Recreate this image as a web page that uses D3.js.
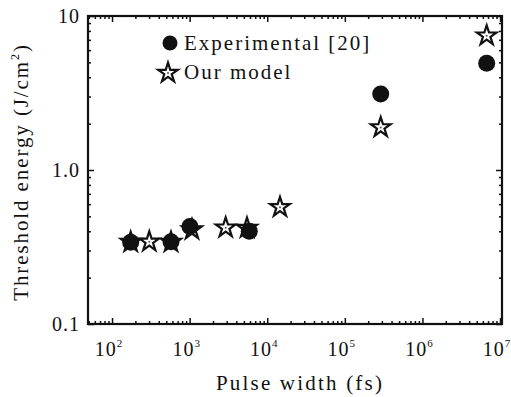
<!DOCTYPE html>
<html>
<head>
<meta charset="utf-8">
<script src="https://cdn.jsdelivr.net/npm/d3@7"></script>
<style>
  body { margin: 0; background: #fff; }
  svg text { font-family: "Liberation Serif", "Times New Roman", serif; fill: #111; }
</style>
</head>
<body>
<svg id="chart" width="511" height="397"></svg>
<script>
// data
const expX = [174, 575, 1009, 5870, 290000, 6730000];
const expY = [0.34, 0.342, 0.43, 0.40, 3.12, 4.93];
const modelX = [174, 302, 575, 1072, 2914, 5485, 14600, 290000, 6730000];
const modelY = [0.34, 0.342, 0.34, 0.41, 0.422, 0.42, 0.573, 1.89, 7.45];

const xMajors = [1e2, 1e3, 1e4, 1e5, 1e6, 1e7];
const xExps = ["2", "3", "4", "5", "6", "7"];
const yMajors = [0.1, 1, 10];
const yLabels = ["0.1", "1.0", "10"];

const svg = d3.select('#chart');
const margin = { left: 88, right: 502, top: 16, bottom: 324 };

const xScale = d3.scaleLog().domain([49, 1.06e7]).range([margin.left, margin.right]);
const yScale = d3.scaleLog().domain([0.1, 10]).range([margin.bottom, margin.top]);

// minor tick values: 2..9 x 10^n inside the domain
function minors(lo, hi) {
    const out = [];
    for (let e = -2; e <= 7; e++) {
        for (let m = 2; m <= 9; m++) {
            const v = m * Math.pow(10, e);
            if (v >= lo && v <= hi) out.push(v);
        }
    }
    return out;
}
const xMinor = minors(49, 1.06e7);
const yMinor = minors(0.1, 10);

function drawAxis(axisFn, scale, values, size, transform) {
    const g = svg.append('g')
        .attr('transform', transform)
        .call(axisFn(scale).tickValues(values).tickSizeInner(-size).tickSizeOuter(0).tickFormat(() => ''));
    g.select('.domain').remove();
    g.selectAll('line').attr('stroke', '#111').attr('stroke-width', 1.5);
}

drawAxis(d3.axisBottom, xScale, xMajors, 6, `translate(0,${margin.bottom})`);
drawAxis(d3.axisBottom, xScale, xMinor, 3, `translate(0,${margin.bottom})`);
drawAxis(d3.axisTop, xScale, xMajors, 6, `translate(0,${margin.top})`);
drawAxis(d3.axisTop, xScale, xMinor, 3, `translate(0,${margin.top})`);
drawAxis(d3.axisLeft, yScale, yMajors, 6, `translate(${margin.left},0)`);
drawAxis(d3.axisLeft, yScale, yMinor, 3, `translate(${margin.left},0)`);
drawAxis(d3.axisRight, yScale, yMajors, 6, `translate(${margin.right},0)`);
drawAxis(d3.axisRight, yScale, yMinor, 3, `translate(${margin.right},0)`);

// frame
svg.append('rect')
    .attr('x', margin.left).attr('y', margin.top)
    .attr('width', margin.right - margin.left).attr('height', margin.bottom - margin.top)
    .attr('fill', 'none').attr('stroke', '#111').attr('stroke-width', 2.2);

// x tick labels with superscripts
xMajors.forEach((v, i) => {
    const t = svg.append('text')
        .attr('x', xScale(v) - 3)
        .attr('y', 356)
        .attr('text-anchor', 'middle')
        .attr('font-size', 20)
        .attr('letter-spacing', 1);
    t.append('tspan').text('10');
    t.append('tspan').attr('dy', -9).attr('font-size', 11).text(xExps[i]);
});

// y tick labels
yMajors.forEach((v, i) => {
    svg.append('text')
        .attr('x', 80)
        .attr('y', yScale(v) + 7)
        .attr('text-anchor', 'end')
        .attr('font-size', 20)
        .attr('letter-spacing', 1)
        .text(yLabels[i]);
});

// axis titles
svg.append('text')
    .attr('x', 300).attr('y', 390)
    .attr('text-anchor', 'middle')
    .attr('font-size', 21)
    .attr('letter-spacing', 2.2)
    .text('Pulse width (fs)');

const yTitle = svg.append('text')
    .attr('transform', `translate(28, 172) rotate(-90)`)
    .attr('text-anchor', 'middle')
    .attr('font-size', 21)
    .attr('letter-spacing', 1.9);
yTitle.append('tspan').text('Threshold energy (J/cm');
yTitle.append('tspan').attr('dy', -9).attr('font-size', 12).text('2');
yTitle.append('tspan').attr('dy', 9).text(')');

// markers
const star = d3.symbol().type(d3.symbolStar).size(120);

function drawStar(g, cx, cy) {
    g.append('path')
        .attr('d', star())
        .attr('transform', `translate(${cx},${cy})`)
        .attr('fill', '#fff')
        .attr('stroke', '#111')
        .attr('stroke-width', 2.2)
        .attr('stroke-linejoin', 'miter');
    g.append('circle')
        .attr('cx', cx).attr('cy', cy).attr('r', 1)
        .attr('fill', '#555');
}

const gm = svg.append('g');
modelX.forEach((x, i) => drawStar(gm, xScale(x), yScale(modelY[i])));

svg.append('g').selectAll('circle')
    .data(expX)
    .enter()
    .append('circle')
    .attr('cx', d => xScale(d))
    .attr('cy', (d, i) => yScale(expY[i]))
    .attr('r', 8.5)
    .attr('fill', '#111');

// legend
svg.append('circle').attr('cx', 170).attr('cy', 43).attr('r', 7.5).attr('fill', '#111');
svg.append('text').attr('x', 184).attr('y', 50)
    .attr('font-size', 21).attr('letter-spacing', 2)
    .text('Experimental [20]');
drawStar(svg.append('g'), 168, 73);
svg.append('text').attr('x', 184).attr('y', 79)
    .attr('font-size', 21).attr('letter-spacing', 2)
    .text('Our model');
</script>
</body>
</html>
